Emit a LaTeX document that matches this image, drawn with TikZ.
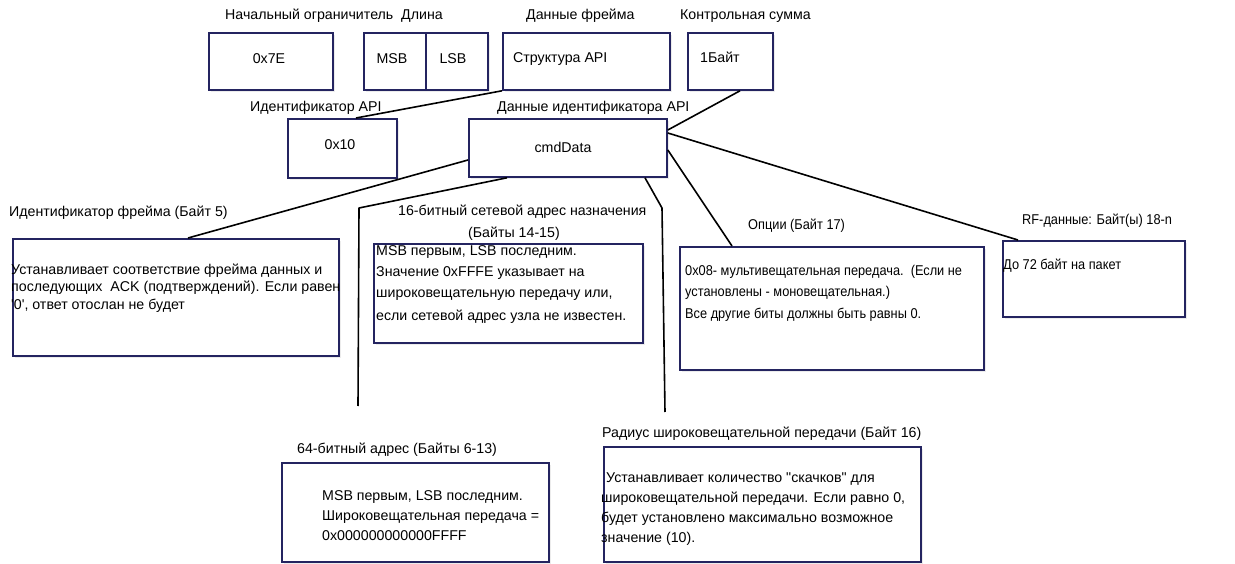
\documentclass[tikz,border=0pt]{standalone}
\usepackage{fontspec}
\setmainfont{Liberation Sans}[Ligatures=TeXOff]
\newfontfamily\narrowsans{Liberation Sans}[Ligatures=TeXOff, FakeStretch=0.9]
\usetikzlibrary{calc,shadows}
\definecolor{navy}{RGB}{36,36,96}
\tikzset{
  box/.style={draw=navy, line width=1.8pt, fill=white, anchor=north west, inner sep=0pt,
    drop shadow={opacity=0.15, shadow xshift=2.5pt, shadow yshift=-2.5pt}},
  lbl/.style={anchor=base west, inner sep=0pt, font=\fontsize{14.2}{17}\selectfont},
  nlbl/.style={anchor=base west, inner sep=0pt, font=\narrowsans\fontsize{14.2}{17}\selectfont},
  ctr/.style={anchor=base, inner sep=0pt, font=\fontsize{14.2}{17}\selectfont},
  conn/.style={draw=black, line width=1.6pt, line join=round},
}
\begin{document}
\begin{tikzpicture}[x=1pt,y=-1pt]
\useasboundingbox (0,0) rectangle (1235,564);
% boxes
\node[box, minimum width=124pt, minimum height=57pt] (start) at (208,32) {};
\node[box, minimum width=62pt, minimum height=57pt] (msb) at (363,32) {};
\node[box, minimum width=62pt, minimum height=57pt] (lsb) at (425,32) {};
\node[box, minimum width=167pt, minimum height=57pt] (frm) at (502,32) {};
\node[box, minimum width=85pt, minimum height=57pt] (cks) at (687,32) {};
\node[box, minimum width=109pt, minimum height=59pt] (api) at (287,118) {};
\node[box, minimum width=198pt, minimum height=58pt] (cmd) at (468,118) {};
\node[box, minimum width=326pt, minimum height=117pt] (fid) at (12,238) {};
\node[box, minimum width=269pt, minimum height=99pt] (dst) at (373,243) {};
\node[box, minimum width=304pt, minimum height=123pt] (opt) at (679,246) {};
\node[box, minimum width=182pt, minimum height=76pt] (rf) at (1002,240) {};
\node[box, minimum width=267pt, minimum height=99pt] (a64) at (281,462) {};
\node[box, minimum width=317pt, minimum height=115pt] (rad) at (603,446) {};

% connectors
\draw[conn] ($(api.north west)+(69,0)$) -- (frm.south west);
\draw[conn] ($(cks.south west)+(53,0)$) -- ($(cmd.north east)+(0,12)$);
\draw[conn] ($(cmd.north east)+(0,15)$) -- ($(rf.north west)+(16,0)$);
\draw[conn] ($(cmd.north east)+(0,32)$) -- ($(opt.north west)+(53,0)$);
\draw[conn] ($(cmd.north west)+(0,42)$) -- ($(fid.north west)+(176,0)$);
\coordinate (e64) at (358,406);
\coordinate (erad) at (665,412);
\draw[conn] ($(cmd.south west)+(39,0)$) -- (359,208) -- (e64);
\draw[conn] ($(cmd.south west)+(177,0)$) -- (662,208) -- (erad);

% labels
\node[lbl] (l1) at (225,19.5) {Начальный ограничитель};
\node[lbl] (l2) at (401,19.5) {Длина};
\node[lbl] (l3) at (526,19.5) {Данные фрейма};
\node[lbl] (l4) at (680,19.5) {Контрольная сумма};
\node[ctr] (t1) at (269,64) {0x7E};
\node[ctr] (t2) at (392,64) {MSB};
\node[ctr] (t3) at (453,64) {LSB};
\node[lbl] (t4) at (513,63) {Структура API};
\node[lbl] (t5) at (700,63) {1Байт};
\node[lbl] (l5) at (250,112) {Идентификатор API};
\node[lbl] (l6) at (497,112) {Данные идентификатора API};
\node[ctr] (t6) at (340,150) {0x10};
\node[ctr] (t7) at (563,153) {cmdData};
\node[lbl] (l7) at (9,217) {Идентификатор фрейма (Байт 5)};
\node[lbl] (f1) at (11,275) {Устанавливает соответствие фрейма данных и};
\node[lbl] (f2) at (11,292) {последующих\ \ ACK (подтверждений). Если равен};
\node[lbl] (f3) at (11,309) {'0', ответ отослан не будет};
\node[lbl] (l8) at (398,216) {16-битный сетевой адрес назначения};
\node[lbl] (l9) at (468,238) {(Байты 14-15)};
\node[lbl] (d1) at (376,256) {MSB первым, LSB последним.};
\node[lbl] (d2) at (376,277) {Значение 0xFFFE указывает на};
\node[lbl] (d3) at (376,298) {широковещательную передачу или,};
\node[lbl] (d4) at (376,320) {если сетевой адрес узла не известен.};
\node[nlbl] (l10) at (748,230) {Опции (Байт 17)};
\node[nlbl] (o1) at (685,276) {0x08- мультивещательная передача.\ \ (Если не};
\node[nlbl] (o2) at (685,297) {установлены - моновещательная.)};
\node[nlbl] (o3) at (685,318) {Все другие биты должны быть равны 0.};
\node[nlbl] (l11) at (1022,225) {RF-данные: Байт(ы) 18-n};
\node[nlbl] (r1) at (1003,270) {До 72 байт на пакет};
\node[lbl] (l12) at (297,453) {64-битный адрес (Байты 6-13)};
\node[lbl] (s1) at (322,500) {MSB первым, LSB последним.};
\node[lbl] (s2) at (322,520) {Широковещательная передача =};
\node[lbl] (s3) at (322,540) {0x000000000000FFFF};
\node[lbl] (l13) at (602,437) {Радиус широковещательной передачи (Байт 16)};
\node[lbl] (q1) at (606,482) {Устанавливает количество "скачков" для};
\node[lbl] (q2) at (601,502) {широковещательной передачи. Если равно 0,};
\node[lbl] (q3) at (601,522) {будет установлено максимально возможное};
\node[lbl] (q4) at (601,542) {значение (10).};
\end{tikzpicture}
\end{document}
